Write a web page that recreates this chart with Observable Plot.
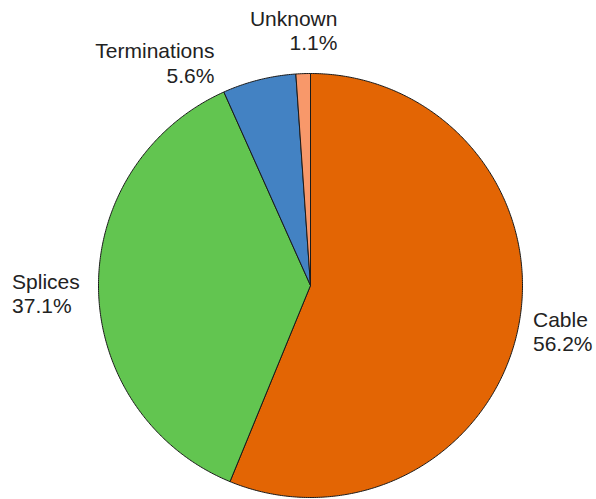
<!DOCTYPE html>
<html>
<head>
<meta charset="utf-8">
<script src="https://cdn.jsdelivr.net/npm/d3@7"></script>
<script src="https://cdn.jsdelivr.net/npm/@observablehq/plot@0.6"></script>
<style>
  html, body { margin: 0; padding: 0; background: #fff; }
  #chart svg { display: block; }
</style>
</head>
<body>
<div id="chart"></div>
<script>
// Share of failures by component (percent)
const categories = ["Cable", "Splices", "Terminations", "Unknown"];
const shares = [56.2, 37.1, 5.6, 1.1];
const colors = ["#E36504", "#62C550", "#4382C3", "#F8986A"];

// Label placement: radius factor along each slice's mid-angle, plus nudges (px)
const labelRadius = 1.1;
const labelNudge = {
  Cable:        { dx: -6.3,  dy: 0.6,   anchor: "start" },
  Splices:      { dx: -65.3, dy: 3.8,   anchor: "start" },
  Terminations: { dx: -39.5, dy: 3.5,   anchor: "end" },
  Unknown:      { dx: 35,    dy: -22.4, anchor: "end" }
};

const total = d3.sum(shares);
const toRad = (v) => (v / total) * 2 * Math.PI;

// Slice outlines as closed polygons in unit-circle coordinates,
// starting at 12 o'clock and running clockwise.
const slicePoints = [];
const labels = [];
let start = 0;
categories.forEach((name, i) => {
  const a0 = start;
  const a1 = start + toRad(shares[i]);
  const steps = Math.max(2, Math.ceil((a1 - a0) / (Math.PI / 360)));
  slicePoints.push({ name, x: 0, y: 0 });
  for (let k = 0; k <= steps; k++) {
    const a = a0 + (a1 - a0) * (k / steps);
    slicePoints.push({ name, x: Math.sin(a), y: Math.cos(a) });
  }
  slicePoints.push({ name, x: 0, y: 0 });
  const mid = (a0 + a1) / 2;
  labels.push({
    name,
    x: labelRadius * Math.sin(mid),
    y: labelRadius * Math.cos(mid),
    text: `${name}\n${shares[i].toFixed(1)}%`
  });
  start = a1;
});

const textStyle = {
  fontSize: 21,
  fontFamily: "'Liberation Sans', Arial, Helvetica, sans-serif",
  fill: "#222",
  lineHeight: 1.167
};

const labelMarks = labels.map((d) =>
  Plot.text([d], {
    x: "x",
    y: "y",
    text: "text",
    textAnchor: labelNudge[d.name].anchor,
    dx: labelNudge[d.name].dx,
    dy: labelNudge[d.name].dy,
    ...textStyle
  })
);

const chart = Plot.plot({
  width: 596,
  height: 499,
  margin: 0,
  x: { domain: [-1, 1], range: [98, 522], axis: null },
  y: { domain: [-1, 1], range: [497, 73], axis: null },
  color: { domain: categories, range: colors },
  marks: [
    Plot.line(slicePoints, {
      x: "x",
      y: "y",
      z: "name",
      fill: "name",
      stroke: "#1a1a1a",
      strokeWidth: 1,
      strokeLinejoin: "round"
    }),
    ...labelMarks
  ]
});

document.getElementById("chart").appendChild(chart);
</script>
</body>
</html>
